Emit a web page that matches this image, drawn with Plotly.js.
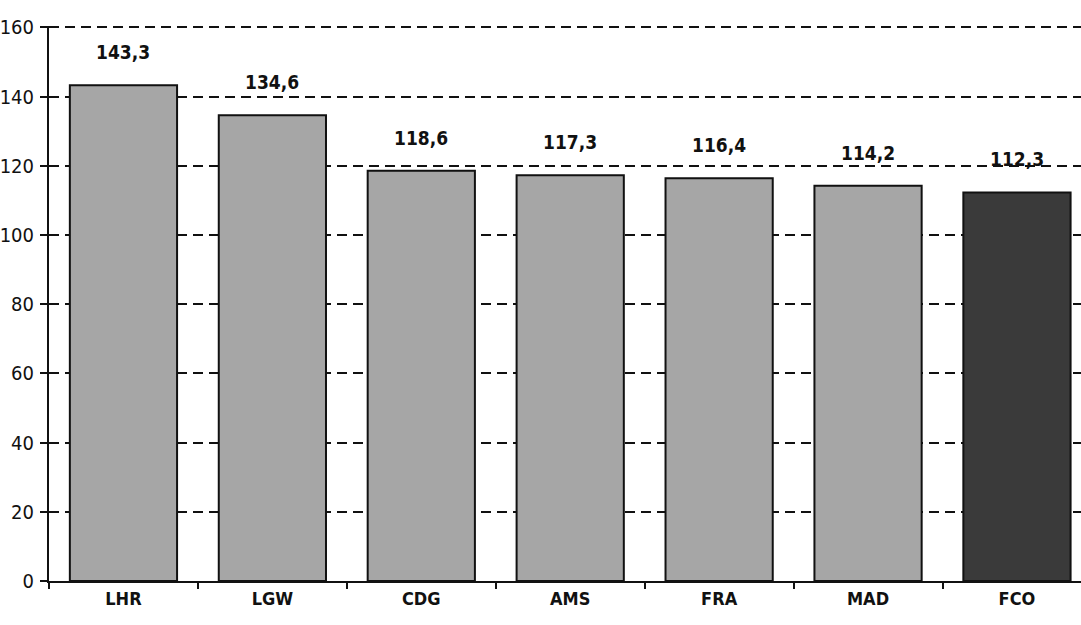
<!DOCTYPE html>
<html>
<head>
<meta charset="utf-8">
<script src="https://cdn.plot.ly/plotly-3.0.1.min.js"></script>
<style>html,body{margin:0;padding:0;background:#fff;}#chart{width:1081px;height:625px;}</style>
</head>
<body>
<div id="chart"></div>
<script>
const airports = ['LHR', 'LGW', 'CDG', 'AMS', 'FRA', 'MAD', 'FCO'];
const values = [143.3, 134.6, 118.6, 117.3, 116.4, 114.2, 112.3];
const valueLabels = ['143,3', '134,6', '118,6', '117,3', '116,4', '114,2', '112,3'];
const yTicks = [0, 20, 40, 60, 80, 100, 120, 140, 160];

const barColors = airports.map(a => a === 'FCO' ? '#3a3a3a' : '#a6a6a6');
const fontFam = '"DejaVu Sans Condensed", "Liberation Sans Narrow", "Liberation Sans", Arial, sans-serif';

const trace = {
  type: 'bar',
  x: airports,
  y: values,
  width: 0.72,
  marker: {color: barColors, line: {color: '#111', width: 2}},
  hoverinfo: 'skip'
};

const annotations = airports.map((a, i) => ({
  x: a, y: values[i], text: valueLabels[i],
  showarrow: false, yanchor: 'bottom', yshift: 20,
  font: {family: fontFam, size: 19, color: '#111', weight: 'bold'}
}));

const layout = {
  width: 1081, height: 625,
  margin: {l: 49, r: 0, t: 26, b: 44},
  paper_bgcolor: '#fff', plot_bgcolor: '#fff',
  showlegend: false,
  bargap: 0.28,
  xaxis: {
    type: 'category',
    range: [-0.5, 6.43],
    tickson: 'boundaries',
    ticks: 'outside', ticklen: 6, tickcolor: '#111', tickwidth: 2,
    showline: true, linecolor: '#111', linewidth: 2,
    showgrid: false,
    tickfont: {family: fontFam, size: 18, color: '#111', weight: 'bold'}
  },
  yaxis: {
    range: [0, 160.4],
    tickvals: yTicks,
    ticktext: yTicks.map(String),
    ticks: 'outside', ticklen: 7, tickcolor: '#111', tickwidth: 2,
    showline: true, linecolor: '#111', linewidth: 2,
    showgrid: true, gridcolor: '#111', gridwidth: 2, griddash: '10px,6px',
    zeroline: false,
    ticklabelstandoff: 2,
    tickfont: {family: fontFam, size: 20, color: '#111'}
  },
  annotations: annotations
};

Plotly.newPlot('chart', [trace], layout, {displayModeBar: false, staticPlot: true});
</script>
</body>
</html>
